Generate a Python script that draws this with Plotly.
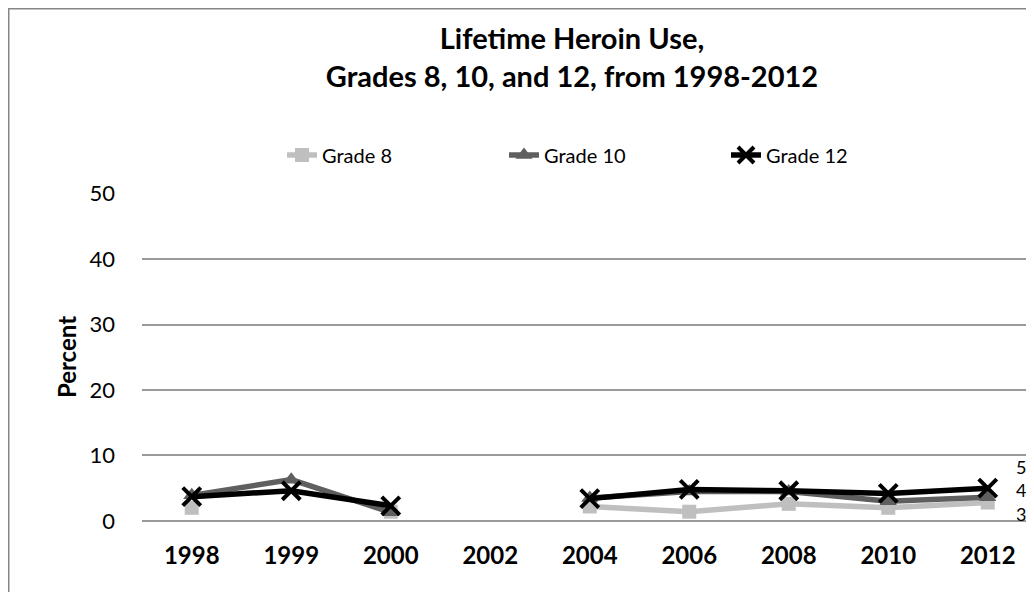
import plotly.graph_objects as go

years = ["1998", "1999", "2000", "2002", "2004", "2006", "2008", "2010", "2012"]
grade8 = [2.0, None, 1.4, None, 2.2, 1.4, 2.6, 2.0, 2.8]
grade10 = [3.9, 6.3, 1.3, None, 3.5, 4.5, 4.5, 3.0, 3.6]
grade12 = [3.7, 4.6, 2.3, None, 3.4, 4.8, 4.6, 4.2, 5.0]
series_names = ["Grade 8", "Grade 10", "Grade 12"]
y_ticks = [0, 10, 20, 30, 40, 50]

FONT = "Lato, Calibri, Carlito, sans-serif"

# page body adds ~8px offset; layout is expressed in figure pixels
L, T, B = 134, 185, 79
W, H = 1034, 592
PW, PH = W - L, H - T - B

fig = go.Figure()
styles = [
    dict(color="#bfbfbf", symbol="square", size=14, mline=0),
    dict(color="#5f5f5f", symbol="triangle-up", size=15, mline=0),
    dict(color="#000000", symbol="x-thin", size=18, mline=4),
]
for name, vals, st in zip(series_names, [grade8, grade10, grade12], styles):
    fig.add_trace(go.Scatter(
        x=years, y=vals, name=name, mode="lines+markers",
        connectgaps=False,
        line=dict(color=st["color"], width=5.5),
        marker=dict(symbol=st["symbol"], size=st["size"], color=st["color"],
                    line=dict(color=st["color"], width=st["mline"])),
    ))

# end-of-series data labels (rounded values)
last_idx = len(years) - 1
label_shift = {"Grade 8": -11, "Grade 10": 7, "Grade 12": 21}
for name, vals in zip(series_names, [grade8, grade10, grade12]):
    v = vals[last_idx]
    fig.add_annotation(x=last_idx, y=v, xref="x", yref="y", text=str(round(v)),
                       showarrow=False, xshift=33, yshift=label_shift[name],
                       font=dict(family=FONT, size=18, color="#000"))

# outer chart border (extends beyond the cropped image edges)
fig.add_shape(type="rect", xref="paper", yref="paper",
              x0=(0.75 - L) / PW, x1=1.2, y0=-0.5, y1=(PH + T - 0.75) / PH,
              line=dict(color="#868686", width=1.5), layer="below")

fig.update_layout(
    width=W, height=H,
    margin=dict(l=L, r=0, t=T, b=B),
    paper_bgcolor="white", plot_bgcolor="white",
    font=dict(family=FONT, size=16, color="#000"),
    title=dict(
        text="<b>Lifetime Heroin Use,</b><br><b>Grades 8, 10, and 12, from 1998-2012</b>",
        x=564 / W, xref="container", xanchor="center",
        y=1 - 41 / H, yref="container", yanchor="top",
        font=dict(family=FONT, size=29, color="#000"),
    ),
    legend=dict(
        orientation="h", xref="container", yref="container",
        x=274 / W, xanchor="left", y=1 - 147 / H, yanchor="middle",
        entrywidth=177, entrywidthmode="pixels",
        font=dict(family=FONT, size=20, color="#000"),
        bgcolor="rgba(0,0,0,0)",
    ),
    showlegend=True,
)
fig.update_xaxes(
    type="category", range=[-0.5, -0.5 + PW / 99.5],
    showgrid=False, showline=False, ticks="",
    tickfont=dict(family=FONT, size=24, weight="bold", color="#000"),
    ticklabelstandoff=18,
)
fig.update_yaxes(
    range=[-0.02, 50.1], tickvals=y_ticks, showgrid=True,
    gridcolor="#9a9a9a", gridwidth=1.5,
    zeroline=True, zerolinecolor="#9a9a9a", zerolinewidth=1.5,
    showline=False, ticks="", tickfont=dict(family=FONT, size=22, color="#000"),
    ticklabelstandoff=26,
    title=dict(text="<b>Percent</b>", font=dict(family=FONT, size=24, color="#000"), standoff=6),
)

fig.write_html("out.html")
